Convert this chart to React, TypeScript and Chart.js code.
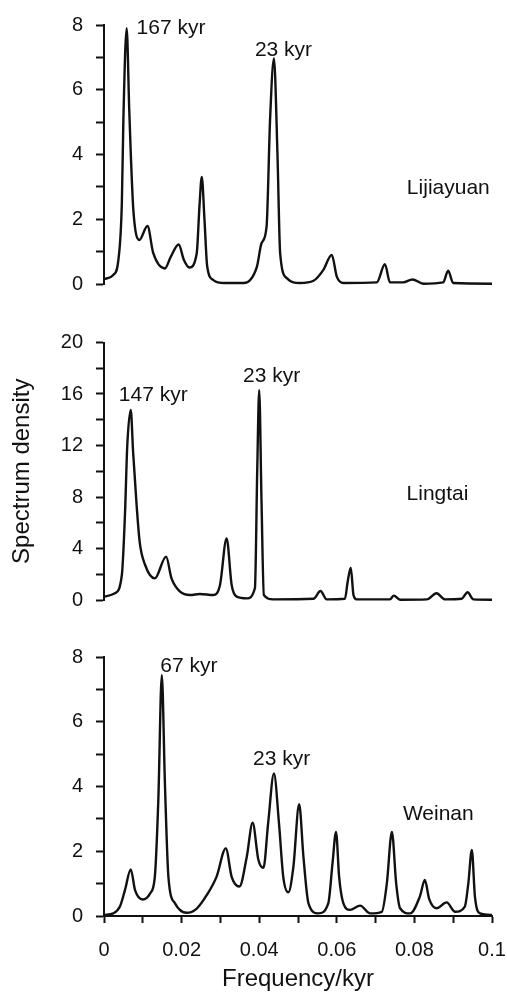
import React, { useEffect, useRef } from "react";
import { Chart, registerables } from "chart.js";

Chart.register(...registerables);

const FONT = "'Liberation Sans', Arial, Helvetica, sans-serif";
const INK = "#111111";

// ---------- shared x axis ----------
const xTickValues = [0, 0.01, 0.02, 0.03, 0.04, 0.05, 0.06, 0.07, 0.08, 0.09, 0.1];
const xTickLabels = ["0", "", "0.02", "", "0.04", "", "0.06", "", "0.08", "", "0.1"];

// ---------- Lijiayuan ----------
const lijiaFreq = [
  0, 0.0024, 0.0037, 0.0046, 0.005, 0.00584, 0.0065, 0.0069, 0.00756, 0.0091, 0.0112, 0.0127,
  0.0157, 0.0172, 0.01924, 0.0206, 0.022, 0.0239, 0.0246, 0.0252, 0.0259, 0.0266, 0.0282, 0.031,
  0.036, 0.0394, 0.0406, 0.0419, 0.0428, 0.0438, 0.0447, 0.0454, 0.0471, 0.0505, 0.054, 0.0565,
  0.0587, 0.06, 0.0617, 0.0703, 0.0724, 0.0737, 0.0771, 0.0795, 0.0823, 0.0874, 0.0887, 0.09, 0.1,
];
const lijiaDensity = [
  0.15, 0.28, 0.74, 2.5, 5.1, 7.9, 5.4, 4.04, 2.29, 1.36, 1.79, 0.95,
  0.48, 0.84, 1.22, 0.74, 0.51, 0.95, 2.39, 3.31, 1.98, 0.54, 0.12, 0.03,
  0.03, 0.53, 1.26, 1.77, 5.07, 6.97, 4.04, 0.95, 0.18, 0.03, 0.1, 0.43,
  0.9, 0.23, 0.03, 0.05, 0.61, 0.05, 0.05, 0.14, 0.01, 0.05, 0.41, 0.03, 0.01,
];
const lijiaYTicks = [0, 1, 2, 3, 4, 5, 6, 7, 8];
const lijiaYLabels = ["0", "", "2", "", "4", "", "6", "", "8"];
const lijiaNoteText = ["167 kyr", "23 kyr", "Lijiayuan"];
const lijiaNoteX = [0.01727, 0.04626, 0.08874];
const lijiaNoteY = [7.91, 7.23, 2.97];

// ---------- Lingtai ----------
const lingFreq = [
  0, 0.0028, 0.0046, 0.0054, 0.006, 0.0069, 0.0075, 0.0084, 0.0092, 0.0106, 0.0131, 0.016,
  0.0174, 0.0196, 0.0222, 0.0247, 0.0282, 0.0299, 0.0316, 0.0329, 0.0342, 0.0368, 0.0389, 0.0395,
  0.04, 0.0406, 0.0412, 0.0436, 0.054, 0.0558, 0.0574, 0.0621, 0.0628, 0.0636, 0.0643, 0.0651,
  0.0737, 0.0747, 0.0763, 0.0832, 0.0857, 0.0879, 0.0922, 0.0937, 0.0952, 0.1,
];
const lingDensity = [
  0.26, 0.52, 1.94, 6.6, 12.0, 14.76, 11.5, 7.4, 4.5, 2.72, 1.68, 3.37,
  1.68, 0.65, 0.39, 0.47, 0.39, 1.17, 4.79, 1.17, 0.26, 0.13, 0.93, 10.2,
  16.3, 7.6, 0.39, 0.05, 0.1, 0.7, 0.05, 0.1, 1.42, 2.51, 0.39, 0.05,
  0.05, 0.34, 0.02, 0.05, 0.52, 0.05, 0.1, 0.6, 0.05, 0.02,
];
const lingYTicks = [0, 2, 4, 6, 8, 10, 12, 14, 16, 18, 20];
const lingYLabels = ["0", "", "4", "", "8", "", "12", "", "16", "", "20"];
const lingNoteText = ["147 kyr", "23 kyr", "Lingtai"];
const lingNoteX = [0.0127, 0.0432, 0.08595];
const lingNoteY = [15.9, 17.36, 8.23];

// ---------- Weinan ----------
const weiFreq = [
  0, 0.0024, 0.0041, 0.0054, 0.0069, 0.008, 0.01, 0.0119, 0.0131, 0.014, 0.0149, 0.0157,
  0.0166, 0.0183, 0.0213, 0.0239, 0.0265, 0.029, 0.0314, 0.0329, 0.0349, 0.0368, 0.0383, 0.0398,
  0.0411, 0.0423, 0.0438, 0.0451, 0.0462, 0.0475, 0.0488, 0.0503, 0.0514, 0.0527, 0.0552, 0.0578,
  0.0589, 0.0598, 0.0606, 0.0617, 0.0634, 0.066, 0.0686, 0.0716, 0.0729, 0.0742, 0.0753, 0.0763,
  0.0789, 0.0814, 0.0827, 0.0838, 0.0857, 0.0883, 0.0905, 0.093, 0.0939, 0.0948, 0.0956, 0.0969, 0.1,
];
const weiDensity = [
  0.03, 0.08, 0.29, 0.8, 1.44, 0.8, 0.51, 0.7, 1.21, 3.58, 7.44, 4.1,
  1.21, 0.39, 0.1, 0.23, 0.65, 1.21, 2.09, 1.21, 0.91, 1.83, 2.88, 1.73,
  1.49, 2.86, 4.4, 2.86, 1.21, 0.73, 1.51, 3.45, 1.83, 0.39, 0.08, 0.39,
  1.63, 2.6, 1.21, 0.39, 0.19, 0.32, 0.08, 0.13, 1.01, 2.6, 1.01, 0.24,
  0.08, 0.6, 1.11, 0.53, 0.24, 0.42, 0.13, 0.29, 1.01, 2.04, 0.6, 0.08, 0.03,
];
const weiYTicks = [0, 1, 2, 3, 4, 5, 6, 7, 8];
const weiYLabels = ["0", "", "2", "", "4", "", "6", "", "8"];
const weiNoteText = ["67 kyr", "23 kyr", "Weinan"];
const weiNoteX = [0.02186, 0.0458, 0.08616];
const weiNoteY = [7.73, 4.85, 3.15];

type PanelProps = {
  freq: number[];
  dens: number[];
  yTicks: number[];
  yLabels: string[];
  noteText: string[];
  noteX: number[];
  noteY: number[];
  showX: boolean;
  yTitle?: string;
  top: number;
  height: number;
  padTop: number;
  padBottom: number;
};

function Panel(p: PanelProps) {
  const ref = useRef<HTMLCanvasElement | null>(null);
  useEffect(() => {
    if (!ref.current) return;
    const notesPlugin = {
      id: "notes",
      afterDatasetsDraw(chart: any) {
        const { ctx, scales } = chart;
        const xs = scales.x;
        const ys = scales.y;
        ctx.save();
        ctx.font = `21px ${FONT}`;
        ctx.fillStyle = INK;
        ctx.textAlign = "center";
        ctx.textBaseline = "middle";
        p.noteText.forEach((t, i) => {
          ctx.fillText(t, xs.getPixelForValue(p.noteX[i]), ys.getPixelForValue(p.noteY[i]));
        });
        ctx.restore();
      },
    };
    const yMax = p.yTicks[p.yTicks.length - 1];
    const chart = new Chart(ref.current, {
      type: "line",
      data: {
        datasets: [
          {
            data: p.freq.map((f, i) => ({ x: f, y: p.dens[i] })),
            borderColor: INK,
            borderWidth: 2.4,
            pointRadius: 0,
            cubicInterpolationMode: "monotone",
            fill: false,
            clip: false,
          } as any,
        ],
      },
      options: {
        animation: false,
        responsive: false,
        maintainAspectRatio: false,
        events: [],
        layout: { padding: { left: 0, right: 15, top: p.padTop, bottom: p.padBottom } },
        plugins: {
          legend: { display: false },
          tooltip: { enabled: false },
          title: { display: false },
        },
        scales: {
          x: {
            type: "linear",
            min: 0,
            max: 0.1,
            display: p.showX,
            afterBuildTicks: (s: any) => {
              s.ticks = xTickValues.map((v) => ({ value: v }));
            },
            afterFit: (s: any) => {
              s.height = p.showX ? 78 : 0;
              s.paddingLeft = 0;
              s.paddingRight = 0;
            },
            ticks: {
              autoSkip: false,
              maxRotation: 0,
              padding: 15,
              color: INK,
              font: { size: 20, family: FONT },
              callback: (_v: any, i: number) => xTickLabels[i],
            },
            grid: {
              display: true,
              drawOnChartArea: false,
              drawTicks: true,
              tickLength: 7,
              tickWidth: 2,
              color: INK,
            },
            border: { display: true, color: INK, width: 2 },
            title: {
              display: true,
              text: "Frequency/kyr",
              color: INK,
              font: { size: 24, family: FONT },
              padding: { top: 0, bottom: 0 },
            },
          },
          y: {
            type: "linear",
            min: 0,
            max: yMax,
            afterBuildTicks: (s: any) => {
              s.ticks = p.yTicks.map((v) => ({ value: v }));
            },
            afterFit: (s: any) => {
              s.width = 104;
              s.paddingTop = 0;
              s.paddingBottom = 0;
            },
            ticks: {
              autoSkip: false,
              padding: 13,
              color: INK,
              font: { size: 20, family: FONT },
              callback: (_v: any, i: number) => p.yLabels[i],
            },
            grid: {
              display: true,
              drawOnChartArea: false,
              drawTicks: true,
              tickLength: 8,
              tickWidth: 2,
              color: INK,
            },
            border: { display: true, color: INK, width: 2 },
            title: {
              display: !!p.yTitle,
              text: p.yTitle || "",
              color: INK,
              font: { size: 24, family: FONT },
              padding: { top: 8, bottom: 0 },
            },
          },
        },
      } as any,
      plugins: [notesPlugin],
    });
    return () => chart.destroy();
  }, []);
  return (
    <canvas
      ref={ref}
      width={507}
      height={p.height}
      style={{ position: "absolute", left: 0, top: p.top, width: 507, height: p.height }}
    />
  );
}

export default function App() {
  return (
    <div
      style={{
        position: "fixed",
        left: 0,
        top: 0,
        width: 507,
        height: 994,
        background: "#ffffff",
        overflow: "hidden",
      }}
    >
      <Panel
        freq={lijiaFreq}
        dens={lijiaDensity}
        yTicks={lijiaYTicks}
        yLabels={lijiaYLabels}
        noteText={lijiaNoteText}
        noteX={lijiaNoteX}
        noteY={lijiaNoteY}
        showX={false}
        top={0}
        height={300}
        padTop={25}
        padBottom={16}
      />
      <Panel
        freq={lingFreq}
        dens={lingDensity}
        yTicks={lingYTicks}
        yLabels={lingYLabels}
        noteText={lingNoteText}
        noteX={lingNoteX}
        noteY={lingNoteY}
        showX={false}
        yTitle="Spectrum density"
        top={320}
        height={300}
        padTop={22.5}
        padBottom={20}
      />
      <Panel
        freq={weiFreq}
        dens={weiDensity}
        yTicks={weiYTicks}
        yLabels={weiYLabels}
        noteText={weiNoteText}
        noteX={weiNoteX}
        noteY={weiNoteY}
        showX={true}
        top={630}
        height={364}
        padTop={27}
        padBottom={0}
      />
    </div>
  );
}
